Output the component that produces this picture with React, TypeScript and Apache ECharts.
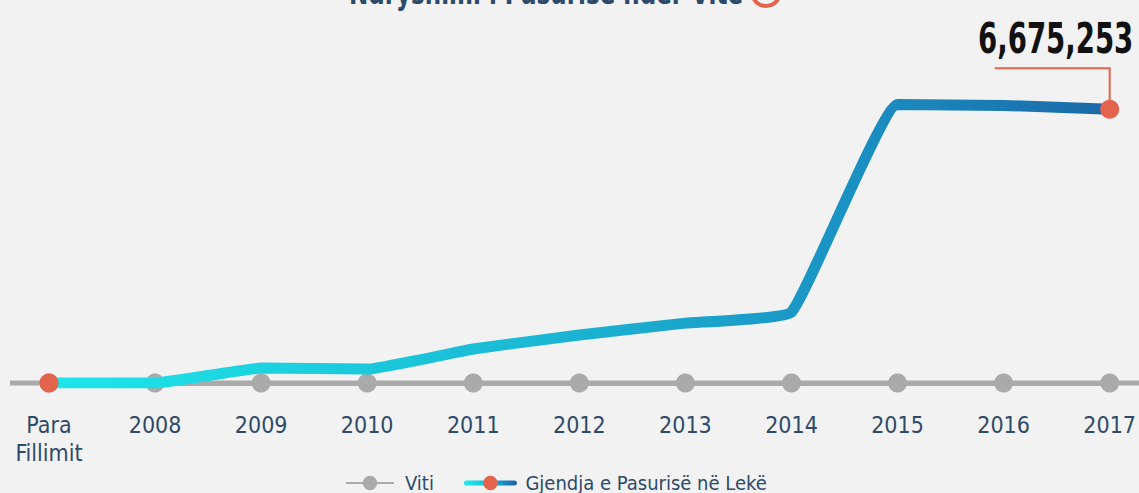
import React, { useEffect, useRef } from "react";
import * as echarts from "echarts";

const categories = ["Para\nFillimit", "2008", "2009", "2010", "2011", "2012", "2013", "2014", "2015", "2016", "2017"];
const wealthValues = [0, 0, 365000, 340000, 830000, 1170000, 1460000, 1730000, 6790000, 6770000, 6675253];
const yearBaseline = [0, 0, 0, 0, 0, 0, 0, 0, 0, 0, 0];
const titleText = "Ndryshimi i Pasurisë ndër Vite";
const seriesNames = ["Viti", "Gjendja e Pasurisë në Lekë"];

const FONT = "'DejaVu Sans Condensed', 'Liberation Sans Narrow', Roboto, sans-serif";
const TEXT_COLOR = "#2d4a6b";
const RED = "#e4634d";
const GRAY = "#aaaaaa";

const STOPS = [
  { offset: 0, color: "#1de7ea" },
  { offset: 0.45, color: "#1ab9d4" },
  { offset: 0.75, color: "#1a92c4" },
  { offset: 1, color: "#1b68a8" },
];

export default function App() {
  const ref = useRef<HTMLDivElement>(null);
  useEffect(() => {
    document.body.style.margin = "0";
    const chart = echarts.init(ref.current!, null, { renderer: "svg" });
    const lastIdx = wealthValues.length - 1;
    const option: any = {
      animation: false,
      backgroundColor: "#f2f2f2",
      grid: { left: 49, right: 17, top: 55, bottom: 110, containLabel: false },
      xAxis: {
        type: "category",
        data: categories,
        boundaryGap: false,
        axisLine: { show: true, lineStyle: { color: GRAY, width: 5 } },
        axisTick: { show: false },
        axisLabel: {
          color: TEXT_COLOR,
          fontFamily: FONT,
          fontSize: 23,
          lineHeight: 28,
          margin: 28,
          interval: 0,
        },
        splitLine: { show: false },
      },
      yAxis: { type: "value", min: 0, max: 8000000, show: false, splitLine: { show: false } },
      legend: {
        top: 468,
        left: 340,
        itemWidth: 48,
        itemHeight: 18,
        itemGap: 30,
        textStyle: { color: TEXT_COLOR, fontFamily: FONT, fontSize: 20, padding: [0, 0, 0, 6] },
        data: [
          { name: seriesNames[0] },
          {
            name: seriesNames[1],
            lineStyle: {
              color: new echarts.graphic.LinearGradient(0, 0, 48, 0, STOPS, true),
              width: 5,
            },
          },
        ],
      },
      series: [
        {
          name: seriesNames[0],
          type: "line",
          data: yearBaseline,
          symbol: "circle",
          symbolSize: 19,
          showAllSymbol: true,
          lineStyle: { color: GRAY, width: 4 },
          itemStyle: { color: GRAY },
          z: 2,
        },
        {
          name: seriesNames[1],
          type: "line",
          smooth: 0.1,
          data: wealthValues.map((v, i) => ({
            value: v,
            symbol: i === 0 || i === lastIdx ? "circle" : "none",
          })),
          symbol: "circle",
          symbolSize: 19,
          showAllSymbol: true,
          itemStyle: { color: RED },
          lineStyle: { width: 11, cap: "round", color: new echarts.graphic.LinearGradient(0, 0, 1, 0, STOPS) },
          z: 3,
        },
      ],
    };
    chart.setOption(option);

    const p0 = chart.convertToPixel({ gridIndex: 0 }, [0, 0]) as number[];
    const pN = chart.convertToPixel({ gridIndex: 0 }, [lastIdx, wealthValues[lastIdx]]) as number[];
    const w = chart.getWidth();
    const labelText = wealthValues[lastIdx].toLocaleString("en-US");
    chart.setOption({
      graphic: [
        {
          type: "line",
          z: 1,
          shape: { x1: p0[0] - 39, y1: p0[1], x2: w, y2: p0[1] },
          style: { stroke: GRAY, lineWidth: 5 },
        },
        {
          type: "polyline",
          z: 1,
          shape: { points: [[pN[0], pN[1]], [pN[0], pN[1] - 41], [pN[0] - 115, pN[1] - 41]] },
          style: { stroke: RED, lineWidth: 2, fill: null },
        },
        {
          type: "text",
          x: pN[0] - 54,
          y: pN[1] - 50,
          scaleX: 0.73,
          style: {
            text: labelText,
            fill: "#111111",
            font: `bold 42px ${FONT}`,
            textAlign: "center",
            textVerticalAlign: "bottom",
          },
        },
        {
          type: "text",
          x: 546,
          y: 9,
          scaleX: 0.8,
          style: {
            text: titleText,
            fill: TEXT_COLOR,
            font: `bold 32px ${FONT}`,
            textAlign: "center",
            textVerticalAlign: "bottom",
          },
        },
        {
          type: "arc",
          shape: { cx: 766, cy: -8, r: 14, startAngle: Math.PI * 0.1, endAngle: Math.PI * 0.9 },
          style: { stroke: RED, lineWidth: 4, fill: null },
        },
      ],
    });

    return () => chart.dispose();
  }, []);
  return <div ref={ref} style={{ width: 1139, height: 493 }} />;
}
